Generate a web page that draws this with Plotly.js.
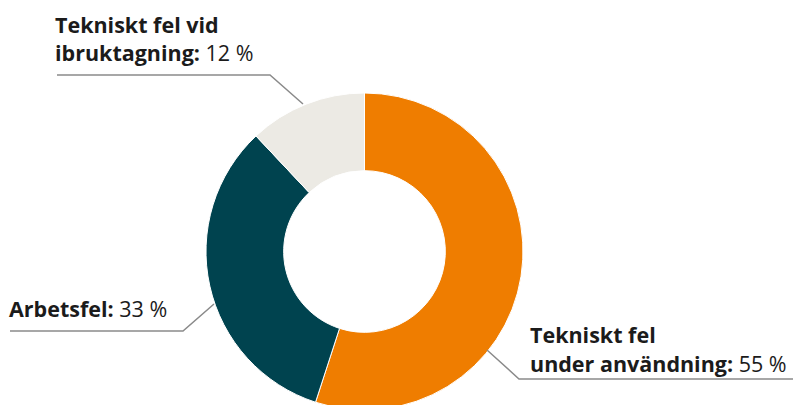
<!DOCTYPE html>
<html>
<head>
<meta charset="utf-8">
<script src="https://cdn.plot.ly/plotly-3.0.1.min.js"></script>
<style>
html,body{margin:0;padding:0;overflow:hidden;background:#fff;width:795px;height:405px;}
#chart{width:795px;height:420px;}
</style>
</head>
<body>
<div id="chart"></div>
<script>
// Data
const categories = ['Tekniskt fel under användning', 'Arbetsfel', 'Tekniskt fel vid ibruktagning'];
const values = [55, 33, 12];
const labelLines = [['Tekniskt fel', 'under användning:'], ['Arbetsfel:'], ['Tekniskt fel vid', 'ibruktagning:']];
const colors = ['#EF7D00', '#00434F', '#ECEAE4'];

const W = 795, H = 420;
const px = x => x / W;
const py = y => 1 - y / H;

// Pie geometry (pixels)
const cx = 364.5, cy = 251.5, R = 158.5;

const trace = {
  type: 'pie',
  labels: categories,
  values: values,
  sort: false,
  direction: 'clockwise',
  rotation: 0,
  hole: 0.51,
  textinfo: 'none',
  hoverinfo: 'label+percent',
  marker: {colors: colors, line: {color: '#ffffff', width: 1}},
  domain: {x: [px(cx - R), px(cx + R)], y: [py(cy + R), py(cy - R)]},
  showlegend: false
};

const font = {family: '"Open Sans", Lato, sans-serif', size: 21.5, color: '#1b1b1b'};
function ann(x, y, text) {
  return {xref: 'paper', yref: 'paper', x: px(x), y: py(y), xanchor: 'left', yanchor: 'middle',
          text: text, showarrow: false, align: 'left', font: font};
}
const pct = v => ' ' + v + ' %';

const annotations = [
  // Top label (ibruktagning)
  ann(53, 24, '<b>' + labelLines[2][0] + '</b>'),
  ann(53, 52, '<b>' + labelLines[2][1] + '</b>' + pct(values[2])),
  // Left label (Arbetsfel)
  ann(7, 308, '<b>' + labelLines[1][0] + '</b>' + pct(values[1])),
  // Bottom-right label
  ann(528, 334, '<b>' + labelLines[0][0] + '</b>'),
  ann(528, 363, '<b>' + labelLines[0][1] + '</b>' + pct(values[0]))
];

const lineStyle = {color: '#8a8a8a', width: 1.5};
function path(pts) {
  return {type: 'path', xref: 'paper', yref: 'paper', line: lineStyle,
          path: pts.map((p, i) => (i ? 'L' : 'M') + px(p[0]) + ',' + py(p[1])).join(' ')};
}
const shapes = [
  path([[57, 75], [270, 75], [303, 104]]),
  path([[10, 331], [183, 331], [214, 304]]),
  path([[487, 350], [519, 379], [793, 379]])
];

const layout = {
  width: W, height: H,
  margin: {l: 0, r: 0, t: 0, b: 0},
  paper_bgcolor: '#ffffff',
  annotations: annotations,
  shapes: shapes
};

Plotly.newPlot('chart', [trace], layout, {displayModeBar: false, staticPlot: false});
</script>
</body>
</html>
